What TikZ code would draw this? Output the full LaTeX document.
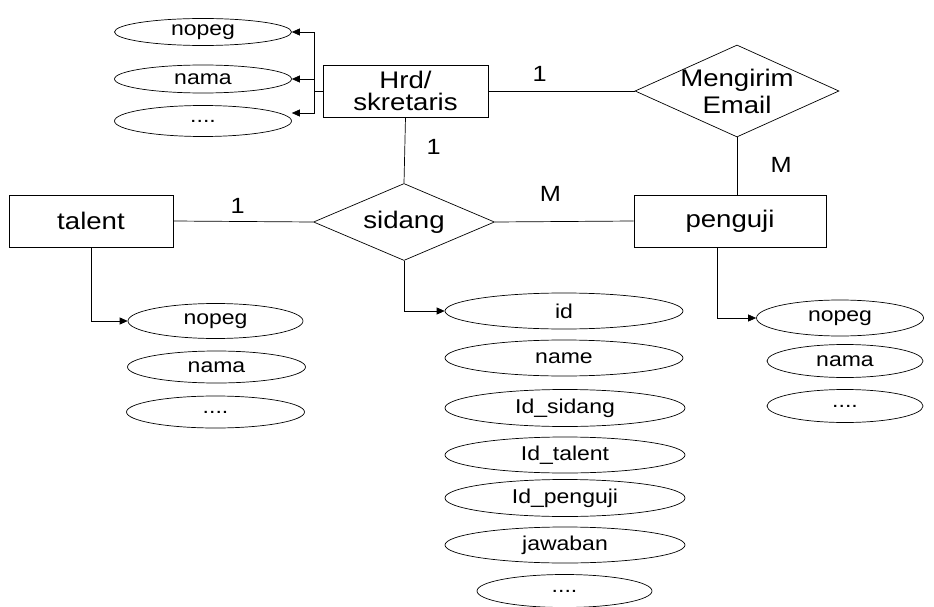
\documentclass[tikz,border=0pt]{standalone}
\usepackage{fontspec}
\setmainfont[FakeStretch=1.15]{Liberation Sans}
\usetikzlibrary{shapes.geometric,arrows.meta}

\begin{document}
\begin{tikzpicture}[x=1pt, y=-1pt, line width=0.7pt,
  ent/.style={draw, rectangle, inner sep=0pt, minimum height=52pt, align=center, font=\fontsize{24}{22}\selectfont},
  rel/.style={draw, diamond, inner sep=0pt},
  attr/.style={draw, ellipse, inner sep=0pt, minimum height=32pt, font=\fontsize{20}{22}\selectfont},
  card/.style={font=\fontsize{22}{24}\selectfont},
  >={Triangle[length=8pt,width=7pt]}]
\useasboundingbox (0,0) rectangle (934,607);
% entities
\node[ent, minimum width=165pt] (hrd) at (405.5,91){Hrd/\\skretaris};
\node[ent, minimum width=164pt] (talent) at (91,221){talent};
\node[ent, minimum width=192pt] (penguji) at (730,221){penguji};
% relations
\node[rel, minimum width=204pt, minimum height=92pt, label={[align=center, font=\fontsize{24}{27}\selectfont]center:Mengirim\\Email}] (mengirim) at (737,91){};
\node[rel, minimum width=181pt, minimum height=77pt, label={[font=\fontsize{24}{26}\selectfont]center:sidang}] (sidang) at (404,222){};
\draw[](hrd.east) -- node[card, pos=0.35, above=6pt] (c1) {1} (mengirim.west);
\draw[](hrd.south) -- node[card, pos=0.45, right=18pt] (c2) {1} (sidang.north);
\draw[](talent.east) -- node[card, pos=0.46, above=4pt] (c3) {1} (sidang.west);
\draw[](sidang.east) -- node[card, pos=0.4, above=16pt] (c4) {M} (penguji.west);
\draw[](mengirim.south) -- node[card, pos=0.48, right=30pt] (c5) {M} (mengirim.south |- penguji.north);
% hrd attributes
\node[attr, minimum width=177pt, minimum height=27pt] (hnopeg) at (203,32){nopeg};
\node[attr, minimum width=177pt, minimum height=28pt] (hnama) at (203,79){nama};
\node[attr, minimum width=177pt, minimum height=31pt] (hdots) at (203,121){....};
\coordinate (hjoin) at (314,91);
\draw[](hrd.west) -- (hjoin);
\draw[->](hjoin) |- (hnopeg.east);
\draw[->](hjoin) |- (hnama.east);
\draw[->](hjoin) |- ([yshift=8pt]hdots.east);
% talent attributes
\node[attr, minimum width=175pt, minimum height=35pt] (tnopeg) at (215.5,321){nopeg};
\node[attr, minimum width=178pt] (tnama) at (216.5,367){nama};
\node[attr, minimum width=178pt] (tdots) at (215.5,412){....};
\draw[->](talent.south) |- (tnopeg.west);
% sidang attributes
\node[attr, minimum width=238pt, minimum height=36pt] (sid) at (564,311){id};
\node[attr, minimum width=238pt, minimum height=36pt] (sname) at (564,358){name};
\node[attr, minimum width=240pt, minimum height=37pt] (sidsidang) at (565,408){Id\_sidang};
\node[attr, minimum width=240pt, minimum height=36pt] (sidtalent) at (565,455){Id\_talent};
\node[attr, minimum width=240pt, minimum height=37pt] (sidpenguji) at (565,498){Id\_penguji};
\node[attr, minimum width=240pt, minimum height=36pt] (sjawaban) at (565,545){jawaban};
\node[attr, minimum width=175pt, minimum height=33pt] (sdots) at (564.5,591){....};
\draw[->](sidang.south) |- (sid.west);
% penguji attributes
\node[attr, minimum width=167pt, minimum height=36pt] (pnopeg) at (840,318){nopeg};
\node[attr, minimum width=156pt, minimum height=33pt] (pnama) at (845,361){nama};
\node[attr, minimum width=156pt, minimum height=33pt] (pdots) at (845,406){....};
\draw[->]([xshift=-13pt]penguji.south) |- (pnopeg.west);
\end{tikzpicture}
\end{document}
